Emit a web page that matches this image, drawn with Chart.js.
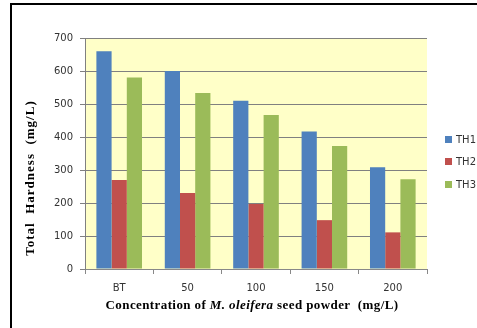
<!DOCTYPE html>
<html>
<head>
<meta charset="utf-8">
<script src="https://cdn.jsdelivr.net/npm/chart.js@4/dist/chart.umd.min.js"></script>
<style>
  html, body { margin: 0; padding: 0; background: #fff; }
  #wrap { position: relative; width: 477px; height: 328px; overflow: hidden; }
  #c { position: absolute; left: 0; top: 0; }
  #frame { position: absolute; left: 10px; top: 3px; width: 700px; height: 700px;
           border-left: 2px solid #000; border-top: 2px solid #000; pointer-events: none; }
  .lg { position: absolute; left: 445px; font: 10px "DejaVu Sans", sans-serif; color: #333; height: 12px; line-height: 12px; }
  .lg span { display: inline-block; width: 7px; height: 7px; margin-right: 4px; vertical-align: 0px; }
</style>
</head>
<body>
<div id="wrap">
  <canvas id="c" width="477" height="328"></canvas>
  <div id="frame"></div>
  <div id="legend"></div>
</div>
<script>
const categories = ["BT", "50", "100", "150", "200"];
const seriesNames = ["TH1", "TH2", "TH3"];
const th1 = [660, 600, 510, 417, 308];
const th2 = [270, 230, 197, 148, 111];
const th3 = [580, 533, 467, 373, 272];
const yTicks = [0, 100, 200, 300, 400, 500, 600, 700];
const colors = ["#4F81BD", "#C0504D", "#9BBB59"];

const legendEl = document.getElementById('legend');
const legendY = [134, 156, 179];
seriesNames.forEach((n, i) => {
  const d = document.createElement('div');
  d.className = 'lg';
  d.style.top = legendY[i] + 'px';
  d.innerHTML = '<span style="background:' + colors[i] + '"></span>' + n;
  legendEl.appendChild(d);
});

const decor = {
  id: 'decor',
  beforeDraw(chart) {
    const { ctx, chartArea: a } = chart;
    ctx.save();
    ctx.fillStyle = '#FFFFC8';
    ctx.fillRect(a.left, a.top, a.right - a.left, a.bottom - a.top);
    ctx.restore();
  },
  afterDraw(chart) {
    const { ctx, chartArea: a } = chart;
    ctx.save();
    ctx.fillStyle = '#000';
    // y title
    ctx.translate(31, 178);
    ctx.rotate(-Math.PI / 2);
    ctx.font = 'bold 13px "Liberation Serif", serif';
    ctx.letterSpacing = '1px';
    ctx.textAlign = 'center';
    ctx.textBaseline = 'middle';
    ctx.fillText('Total  Hardness  (mg/L)', 0, 0);
    ctx.restore();
    // x title with italic part
    ctx.save();
    ctx.fillStyle = '#000';
    ctx.textBaseline = 'middle';
    ctx.letterSpacing = '0.4px';
    const parts = [
      ['Concentration of ', 'bold 13px "Liberation Serif", serif'],
      ['M. oleifera', 'italic bold 13px "Liberation Serif", serif'],
      [' seed powder  (mg/L)', 'bold 13px "Liberation Serif", serif']
    ];
    let total = 0;
    parts.forEach(p => { ctx.font = p[1]; total += ctx.measureText(p[0]).width; });
    let x = (a.left + a.right) / 2 - total / 2 - 4;
    parts.forEach(p => { ctx.font = p[1]; ctx.fillText(p[0], x, 306); x += ctx.measureText(p[0]).width; });
    ctx.restore();
  }
};

new Chart(document.getElementById('c'), {
  type: 'bar',
  data: {
    labels: categories,
    datasets: [
      { label: seriesNames[0], data: th1, backgroundColor: colors[0] },
      { label: seriesNames[1], data: th2, backgroundColor: colors[1] },
      { label: seriesNames[2], data: th3, backgroundColor: colors[2] }
    ]
  },
  options: {
    responsive: false,
    animation: false,
    devicePixelRatio: 1,
    layout: { padding: { left: 0, right: 50, top: 38, bottom: 0 } },
    plugins: { legend: { display: false }, tooltip: { enabled: false } },
    datasets: { bar: { barPercentage: 1.0, categoryPercentage: 0.667 } },
    scales: {
      x: {
        grid: { drawOnChartArea: false, drawTicks: true, tickLength: 5, color: '#888', offset: true },
        border: { color: '#888' },
        ticks: { color: '#333', font: { family: 'DejaVu Sans', size: 10 }, padding: 8 },
        afterFit(s) { s.height = 59; }
      },
      y: {
        min: 0, max: 700,
        afterBuildTicks(s) { s.ticks = yTicks.map(v => ({ value: v })); },
        grid: { color: '#808080', tickLength: 5 },
        border: { color: '#808080' },
        ticks: { color: '#333', font: { family: 'DejaVu Sans', size: 10 }, padding: 7 },
        afterFit(s) { s.width = 85; }
      }
    }
  },
  plugins: [decor]
});
</script>
</body>
</html>
